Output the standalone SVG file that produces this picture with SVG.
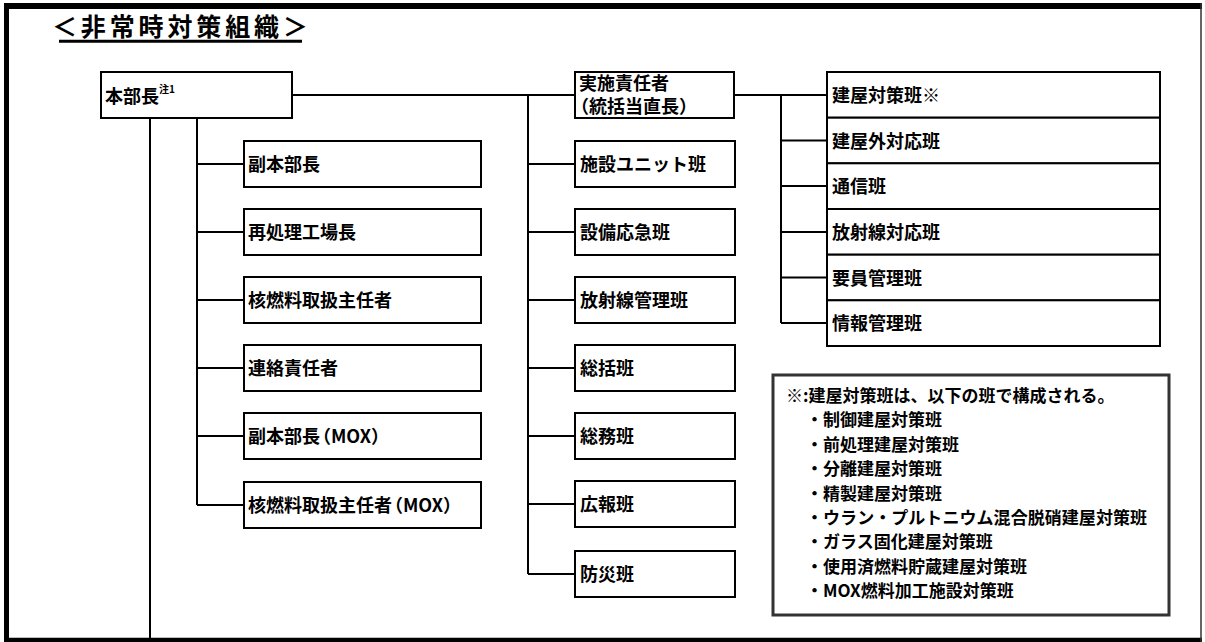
<svg xmlns="http://www.w3.org/2000/svg" width="1205" height="642" viewBox="0 0 1205 642">
<style>
.box{fill:#fff;stroke:#000;stroke-width:2}
.t{font-family:'Noto Sans CJK JP','Noto Sans',sans-serif;font-weight:bold;font-size:18px;fill:#000}
.n{font-family:'Noto Sans CJK JP','Noto Sans',sans-serif;font-weight:bold;font-size:17px;fill:#000}
.ln{stroke:#000;stroke-width:2;fill:none}
</style>
<rect x="0" y="0" width="1205" height="642" fill="#fff"/>
<g id="frame">
<line x1="4" y1="6" x2="1202" y2="6" stroke="#000" stroke-width="6"/>
<line x1="6.5" y1="3" x2="6.5" y2="642" stroke="#000" stroke-width="5"/>
<line x1="4" y1="640" x2="1202" y2="640" stroke="#000" stroke-width="4.5"/>
<line x1="1201" y1="3" x2="1201" y2="642" stroke="#333" stroke-width="1.5"/>
</g>
<g id="title">
<text x="52" y="36" font-family="'Noto Sans CJK JP',sans-serif" font-weight="bold" font-size="25" textLength="256" lengthAdjust="spacing">＜非常時対策組織＞</text>
<line x1="59" y1="41.3" x2="302" y2="41.3" stroke="#000" stroke-width="3"/>
</g>
<g id="connectors">
<path class="ln" d="M292 95H575M150 118V638M197 118V505M197 164H244M197 232H244M197 300H244M197 368H244M197 436H244M197 505H244"/>
<path class="ln" d="M528 95V574M528 164H575M528 232H575M528 300H575M528 368H575M528 436H575M528 504H575M528 574H575"/>
<path class="ln" d="M733 95H827M781 95V323M781 140.5H827M781 186H827M781 232H827M781 277.5H827M781 323H827"/>
</g>
<g id="honbucho"><rect class="box" x="101" y="72" width="191" height="46"/><text class="t" x="105" y="103">本部長<tspan font-size="10" dy="-10">注1</tspan></text></g>
<g id="l1"><rect class="box" x="244" y="141" width="237" height="46"/><text class="t" x="248" y="171">副本部長</text></g>
<g id="l2"><rect class="box" x="244" y="209" width="237" height="46"/><text class="t" x="248" y="239">再処理工場長</text></g>
<g id="l3"><rect class="box" x="244" y="277" width="237" height="46"/><text class="t" x="248" y="307">核燃料取扱主任者</text></g>
<g id="l4"><rect class="box" x="244" y="345" width="237" height="46"/><text class="t" x="248" y="375">連絡責任者</text></g>
<g id="l5"><rect class="box" x="244" y="413" width="237" height="46"/><text class="t" x="248" y="443">副本部長<tspan dx="-7">（MOX）</tspan></text></g>
<g id="l6"><rect class="box" x="244" y="482" width="237" height="46"/><text class="t" x="248" y="512">核燃料取扱主任者<tspan dx="-7">（MOX）</tspan></text></g>
<g id="jisshi"><rect class="box" x="575" y="72" width="159" height="46"/><text class="t" font-size="16"><tspan x="579" y="89.5">実施責任者</tspan><tspan x="571" y="112.5">（統括当直長）</tspan></text></g>
<g id="m1"><rect class="box" x="575" y="141" width="160" height="46"/><text class="t" x="580" y="171">施設ユニット班</text></g>
<g id="m2"><rect class="box" x="575" y="209" width="160" height="46"/><text class="t" x="580" y="239">設備応急班</text></g>
<g id="m3"><rect class="box" x="575" y="277" width="160" height="46"/><text class="t" x="580" y="307">放射線管理班</text></g>
<g id="m4"><rect class="box" x="575" y="345" width="160" height="46"/><text class="t" x="580" y="375">総括班</text></g>
<g id="m5"><rect class="box" x="575" y="413" width="160" height="46"/><text class="t" x="580" y="443">総務班</text></g>
<g id="m6"><rect class="box" x="575" y="481" width="160" height="46"/><text class="t" x="580" y="511">広報班</text></g>
<g id="m7"><rect class="box" x="575" y="551" width="160" height="46"/><text class="t" x="580" y="581">防災班</text></g>
<g id="r1"><rect class="box" x="827" y="72" width="333" height="45.7"/><text class="t" x="832" y="102">建屋対策班※</text></g>
<g id="r2"><rect class="box" x="827" y="117.7" width="333" height="45.7"/><text class="t" x="832" y="147.5">建屋外対応班</text></g>
<g id="r3"><rect class="box" x="827" y="163.3" width="333" height="45.7"/><text class="t" x="832" y="193">通信班</text></g>
<g id="r4"><rect class="box" x="827" y="209" width="333" height="45.7"/><text class="t" x="832" y="239">放射線対応班</text></g>
<g id="r5"><rect class="box" x="827" y="254.7" width="333" height="45.7"/><text class="t" x="832" y="284.5">要員管理班</text></g>
<g id="r6"><rect class="box" x="827" y="300.3" width="333" height="45.7"/><text class="t" x="832" y="330">情報管理班</text></g>
<g id="note">
<rect x="773" y="375" width="396" height="240" fill="#fff" stroke="#333" stroke-width="3"/>
<text class="n" x="786" y="402">※:建屋対策班は、以下の班で構成される。</text>
<text class="n" x="806" y="426.4">・制御建屋対策班</text>
<text class="n" x="806" y="450.8">・前処理建屋対策班</text>
<text class="n" x="806" y="475.2">・分離建屋対策班</text>
<text class="n" x="806" y="499.6">・精製建屋対策班</text>
<text class="n" x="806" y="524" textLength="341" lengthAdjust="spacing">・ウラン・プルトニウム混合脱硝建屋対策班</text>
<text class="n" x="806" y="548.4">・ガラス固化建屋対策班</text>
<text class="n" x="806" y="572.8">・使用済燃料貯蔵建屋対策班</text>
<text class="n" x="806" y="597.2">・MOX燃料加工施設対策班</text>
</g>
</svg>
